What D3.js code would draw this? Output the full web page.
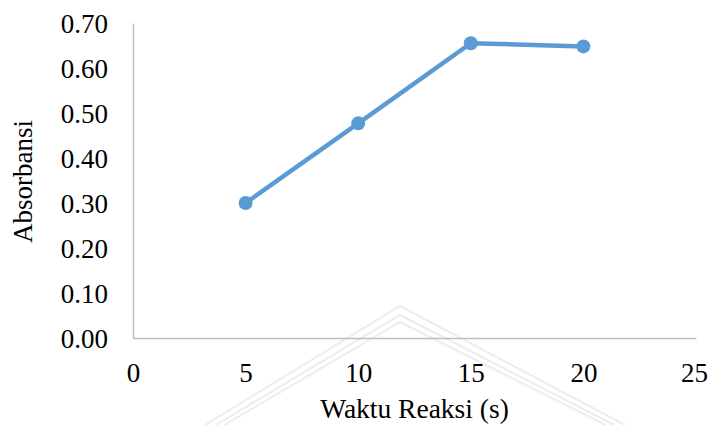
<!DOCTYPE html>
<html>
<head>
<meta charset="utf-8">
<script src="https://cdn.jsdelivr.net/npm/d3@7"></script>
<style>
  html, body { margin: 0; padding: 0; background: #ffffff; }
  svg { display: block; }
</style>
</head>
<body>
<svg id="chart" width="708" height="425"></svg>
<script>
// Reaction time (s) vs absorbance
const waktu = [5, 10, 15, 20];
const absorbansi = [0.30, 0.477, 0.655, 0.648];
const xTicks = [0, 5, 10, 15, 20, 25];
const yTicks = [0.00, 0.10, 0.20, 0.30, 0.40, 0.50, 0.60, 0.70];
const xTitle = "Waktu Reaksi (s)";
const yTitle = "Absorbansi";

const FONT = "'Liberation Serif', 'Times New Roman', serif";
const svg = d3.select("#chart");
const plot = { left: 133, right: 696, top: 23, bottom: 338 };

const x = d3.scaleLinear().domain([0, 25]).range([plot.left, plot.right]);
const y = d3.scaleLinear().domain([0, 0.7]).range([plot.bottom, plot.top]);

// faint background emblem
const emblem = svg.append("g").attr("fill", "none").attr("stroke", "#ededed").attr("stroke-width", 2);
[0, 9, 16].forEach(o => {
  emblem.append("path").attr("d", `M${205 + o * 1.2},${425} L${400},${306 + o} L${625 - o * 1.2},${425}`);
});

// axes
const gx = svg.append("g").attr("transform", `translate(0,${plot.bottom})`)
  .call(d3.axisBottom(x).tickValues(xTicks).tickSize(0).tickPadding(25).tickFormat(d3.format("d")));
const gy = svg.append("g").attr("transform", `translate(${plot.left},0)`)
  .call(d3.axisLeft(y).tickValues(yTicks).tickSize(0).tickPadding(25).tickFormat(d3.format(".2f")));

[gx, gy].forEach(g => {
  g.attr("font-family", null);
  g.select(".domain").attr("stroke", "#bfbfbf").attr("stroke-width", 1.5);
  g.selectAll("text").style("font-family", FONT).style("font-size", "27px").attr("fill", "#000");
});
gx.selectAll("text").attr("dy", "0.71em").attr("dx", d => d === 25 ? -2 : 0);
gy.selectAll("text").attr("dy", "0.35em");

// axis titles
svg.append("text").attr("x", (plot.left + plot.right) / 2).attr("y", 418)
  .attr("text-anchor", "middle").style("font-family", FONT).style("font-size", "27.5px")
  .attr("fill", "#000").text(xTitle);
svg.append("text").attr("transform", `translate(32,${(plot.top + plot.bottom) / 2 + 1}) rotate(-90)`)
  .attr("text-anchor", "middle").style("font-family", FONT).style("font-size", "27px")
  .attr("fill", "#000").text(yTitle);

// series
const pts = waktu.map((t, i) => [t, absorbansi[i]]);
svg.append("path").datum(pts)
  .attr("fill", "none").attr("stroke", "#5b9bd5").attr("stroke-width", 4.5)
  .attr("stroke-linejoin", "round")
  .attr("d", d3.line().x(d => x(d[0])).y(d => y(d[1])));
svg.selectAll("circle.pt").data(pts).join("circle").attr("class", "pt")
  .attr("cx", d => x(d[0])).attr("cy", d => y(d[1])).attr("r", 7)
  .attr("fill", "#5b9bd5");
</script>
</body>
</html>
